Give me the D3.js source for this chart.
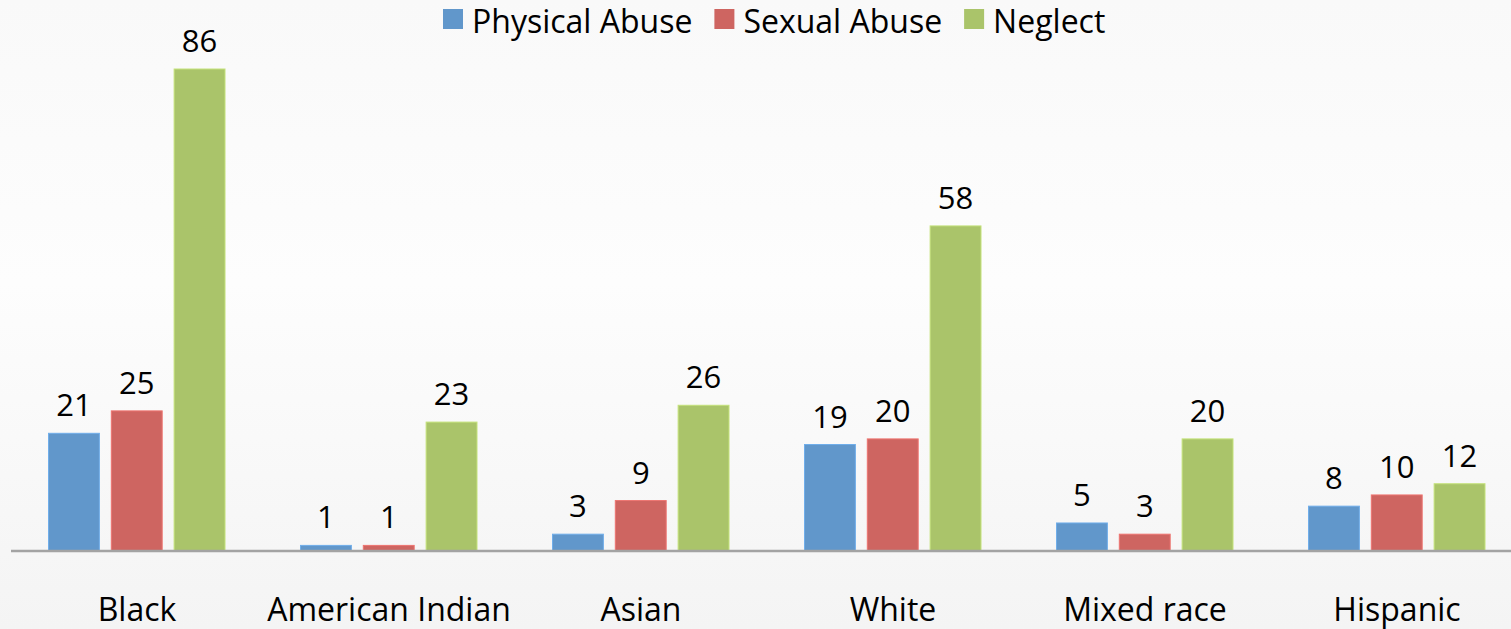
<!DOCTYPE html>
<html>
<head>
<meta charset="utf-8">
<script src="https://cdn.jsdelivr.net/npm/d3@7"></script>
<style>
  html, body { margin: 0; padding: 0; overflow: hidden; }
  svg { display: block; font-family: "Open Sans", sans-serif; }
</style>
</head>
<body>
<svg id="chart" width="1511" height="629"></svg>
<script>
// Chart data.
const categories = ['Black', 'American Indian', 'Asian', 'White', 'Mixed race', 'Hispanic'];
const seriesNames = ['Physical Abuse', 'Sexual Abuse', 'Neglect'];
const physicalAbuse = [21, 1, 3, 19, 5, 8];
const sexualAbuse = [25, 1, 9, 20, 3, 10];
const neglect = [86, 23, 26, 58, 20, 12];
const seriesColors = ['#6197cb', '#ce6561', '#aac46a'];

const seriesValues = [physicalAbuse, sexualAbuse, neglect];

const width = 1511,
  height = 629,
  baseY = 551,
  topY = 69;

let svg = d3.select('#chart');

// Soft grey background, a little darker near the bottom.
let grad = svg.append('defs').append('linearGradient')
  .attr('id', 'bg')
  .attr('x1', 0).attr('y1', 0).attr('x2', 0).attr('y2', 1);
grad.append('stop').attr('offset', '0%').attr('stop-color', '#f9f9f9');
grad.append('stop').attr('offset', '45%').attr('stop-color', '#fdfdfd');
grad.append('stop').attr('offset', '100%').attr('stop-color', '#f4f4f4');

svg.append('rect')
  .attr('width', width)
  .attr('height', height)
  .attr('fill', 'url(#bg)');

// The plot runs slightly past the right edge, as in the original.
let x = d3.scaleBand()
  .domain(categories)
  .range([11, 1523]);

let xInner = d3.scaleBand()
  .domain(seriesNames)
  .range([37.5, 214])
  .paddingInner(0.19);

let y = d3.scaleLinear()
  .domain([0, d3.max(neglect)])
  .range([baseY, topY]);

// Flatten to one record per bar.
let bars = [];
categories.forEach((c, i) => {
  seriesNames.forEach((s, j) => {
    bars.push({ category: c, series: s, value: seriesValues[j][i], color: seriesColors[j] });
  });
});

let g = svg.append('g');

g.selectAll('rect.bar')
  .data(bars)
  .enter()
  .append('rect')
  .attr('class', 'bar')
  .attr('x', d => x(d.category) + xInner(d.series))
  .attr('y', d => y(d.value))
  .attr('width', xInner.bandwidth())
  .attr('height', d => y(0) - y(d.value))
  .attr('fill', d => d.color)
  .attr('stroke', d => d3.color(d.color).brighter(0.4))
  .attr('stroke-width', 1);

g.selectAll('text.value')
  .data(bars)
  .enter()
  .append('text')
  .attr('class', 'value')
  .attr('x', d => x(d.category) + xInner(d.series) + xInner.bandwidth() / 2)
  .attr('y', d => y(d.value) - 17)
  .attr('text-anchor', 'middle')
  .attr('font-size', 31)
  .attr('fill', '#000')
  .text(d => d.value);

// Category axis: just the grey base line and the labels.
let axis = svg.append('g')
  .attr('transform', `translate(0,${baseY})`)
  .call(d3.axisBottom(x).tickSize(0).tickPadding(0));

axis.select('.domain')
  .attr('d', `M11,0H${width}`)
  .attr('stroke', '#a3a3a3')
  .attr('stroke-width', 2.5);

// The labels sit low, their descenders touch the bottom edge like the original.
axis.selectAll('.tick text')
  .attr('y', 70)
  .attr('dy', 0)
  .attr('font-size', 32)
  .attr('font-family', '"Open Sans", sans-serif')
  .attr('fill', '#000');

// Legend along the top, laid out from left to right.
let legend = svg.append('g');
let lx = 443;
seriesNames.forEach((name, i) => {
  legend.append('rect')
    .attr('x', lx)
    .attr('y', 9)
    .attr('width', 20)
    .attr('height', 20)
    .attr('fill', seriesColors[i]);

  let t = legend.append('text')
    .attr('x', lx + 29)
    .attr('y', 33)
    .attr('font-size', 32)
    .attr('fill', '#000')
    .text(name);

  lx += 29 + t.node().getComputedTextLength() + 22;
});
</script>
</body>
</html>
